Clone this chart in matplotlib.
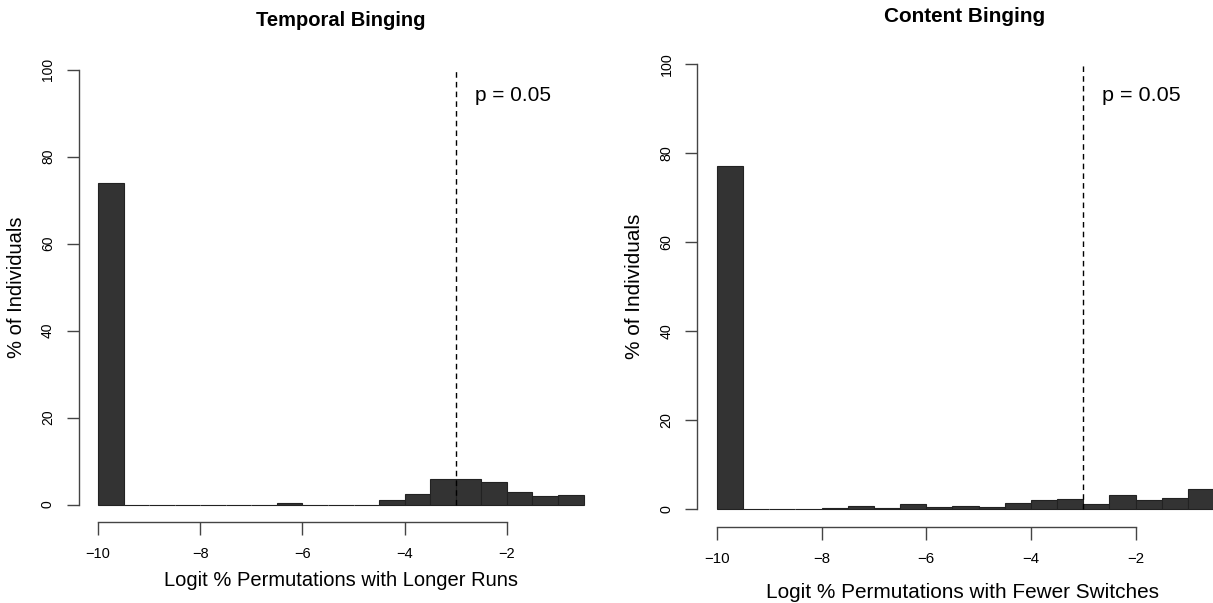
# Two histograms of logit permutation percentages (temporal vs content binging)
import numpy as np
import matplotlib
matplotlib.use("Agg")
import matplotlib.pyplot as plt

plt.rcParams["font.family"] = ["Liberation Sans", "DejaVu Sans"]

# data: bin edges are 0.5 wide starting at -10
bin_left = np.arange(-10, -0.5, 0.5)
temporal_pct = [74.0, 0, 0, 0, 0, 0, 0, 0.3, 0, 0, 0,
                1.0, 2.5, 5.8, 5.8, 5.2, 3.0, 1.9, 2.1]
content_pct = [77.0, 0, 0, 0, 0.2, 0.6, 0.2, 1.05, 0.4, 0.6, 0.4,
               1.4, 2.0, 2.3, 1.05, 3.15, 1.95, 2.5, 4.6]
titles = ["Temporal Binging", "Content Binging"]
xlabels = ["Logit % Permutations with Longer Runs",
           "Logit % Permutations with Fewer Switches"]
x_ticks = [-10, -8, -6, -4, -2]
y_ticks = [0, 20, 40, 60, 80, 100]
p_cut = -3
p_label = "p = 0.05"

BAR_COLOR = "#333333"
W, H = 1213, 603

fig = plt.figure(figsize=(W / 100, H / 100), dpi=100)

# axes boxes in pixels: (left, top, right, bottom)
boxes = [(78.6, 52.3, 603, 522), (697, 46.2, 1234, 526.8)]
label_pos = [dict(title=(341, 20), xlab=(341, 581), ylab=(17, 287), ptext=(-2.62, 94)),
             dict(title=(965, 16), xlab=(962, 592), ylab=(634, 286), ptext=(-2.65, 93))]
scale = [1.0, 1.03]  # right panel is drawn slightly bigger

for i, heights in enumerate([temporal_pct, content_pct]):
    l, t, r, b = boxes[i]
    k = scale[i]
    ax = fig.add_axes([l / W, 1 - b / H, (r - l) / W, (b - t) / H])
    ax.bar(bin_left, heights, width=0.5, align="edge",
           color=BAR_COLOR, edgecolor="#222222", linewidth=0.8)
    ax.vlines(p_cut, 0, 100, colors="black", linestyles=(0, (4, 3)), linewidth=1)
    ax.text(label_pos[i]["ptext"][0], label_pos[i]["ptext"][1], p_label,
            fontsize=15 * k, ha="left", va="center")

    ax.set_xlim(-10.38, -0.12)
    ax.set_ylim(-4, 104)
    for s in ["top", "right"]:
        ax.spines[s].set_visible(False)
    ax.spines["bottom"].set_bounds(-10, -2)
    ax.spines["left"].set_bounds(0, 100)
    for s in ["bottom", "left"]:
        ax.spines[s].set_color("#444444")
        ax.spines[s].set_linewidth(1)
    ax.set_xticks(x_ticks)
    ax.set_xticklabels([str(v).replace("-", "\u2212") for v in x_ticks])
    ax.set_yticks(y_ticks)
    ax.set_yticklabels([str(v) for v in y_ticks], rotation=90, va="center")
    ax.tick_params(axis="x", length=9, width=1, color="#444444", pad=9, labelsize=10.5 * k)
    ax.tick_params(axis="y", length=9, width=1, color="#444444", pad=8, labelsize=10 * k)

    tx, ty = label_pos[i]["title"]
    fig.text(tx / W, 1 - ty / H, titles[i], fontsize=14.5 * k, fontweight="bold",
             ha="center", va="center")
    xx, xy = label_pos[i]["xlab"]
    fig.text(xx / W, 1 - xy / H, xlabels[i], fontsize=14.5 * k, ha="center", va="center")
    yx, yy = label_pos[i]["ylab"]
    fig.text(yx / W, 1 - yy / H, "% of Individuals", fontsize=14.5 * k,
             rotation=90, ha="center", va="center")

fig.savefig("out.png", dpi=100)
